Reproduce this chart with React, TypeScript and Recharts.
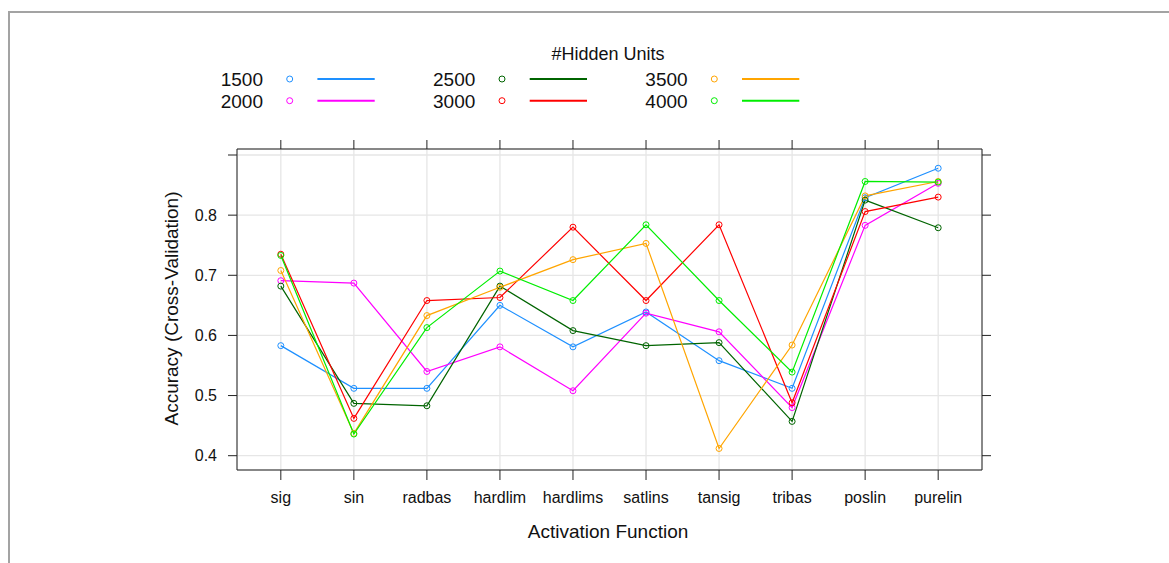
import React from 'react';
import { LineChart, Line, XAxis, YAxis, CartesianGrid } from 'recharts';

const categories: string[] = ['sig', 'sin', 'radbas', 'hardlim', 'hardlims', 'satlins', 'tansig', 'tribas', 'poslin', 'purelin'];

const units1500: number[] = [0.583, 0.512, 0.512, 0.650, 0.581, 0.639, 0.558, 0.512, 0.829, 0.878];
const units2000: number[] = [0.691, 0.687, 0.540, 0.581, 0.508, 0.637, 0.606, 0.480, 0.783, 0.853];
const units2500: number[] = [0.682, 0.487, 0.483, 0.682, 0.608, 0.583, 0.588, 0.457, 0.825, 0.779];
const units3000: number[] = [0.735, 0.462, 0.658, 0.663, 0.780, 0.658, 0.784, 0.488, 0.806, 0.830];
const units3500: number[] = [0.708, 0.437, 0.633, 0.680, 0.726, 0.753, 0.412, 0.584, 0.832, 0.856];
const units4000: number[] = [0.733, 0.436, 0.613, 0.707, 0.658, 0.784, 0.658, 0.539, 0.856, 0.855];

const yTicks: number[] = [0.4, 0.5, 0.6, 0.7, 0.8, 0.9];
const yLabelled: number[] = [0.4, 0.5, 0.6, 0.7, 0.8];

const legendTitle = '#Hidden Units';
const xTitle = 'Activation Function';
const yTitle = 'Accuracy (Cross-Validation)';

const series = [
  { name: '1500', values: units1500, color: '#1e90ff' },
  { name: '2000', values: units2000, color: '#ff00ff' },
  { name: '2500', values: units2500, color: '#006400' },
  { name: '3000', values: units3000, color: '#ff0000' },
  { name: '3500', values: units3500, color: '#ffa500' },
  { name: '4000', values: units4000, color: '#00ee00' },
];

const data = categories.map((c, i) => {
  const row: Record<string, number | string> = { idx: i, cat: c };
  series.forEach((s) => {
    row['u' + s.name] = s.values[i];
  });
  return row;
});

const xTicks = categories.map((_, i) => i);
const FONT = '"Liberation Sans", Arial, sans-serif';

export default function App() {
  const legendCols = [0, 1, 2];
  return (
    <div style={{ position: 'relative', width: 1169, height: 563, overflow: 'hidden', background: '#fff' }}>
      <style>{'html,body{margin:0;padding:0;overflow:hidden;background:#fff}'}</style>
      <div
        style={{
          position: 'absolute',
          left: 8,
          top: 11,
          width: 1161,
          height: 552,
          borderTop: '2px solid #a3a3a3',
          borderLeft: '2px solid #a3a3a3',
          boxSizing: 'border-box',
        }}
      />
      <div style={{ position: 'absolute', left: 0, top: 0 }}>
        <LineChart
          width={1169}
          height={563}
          data={data}
          margin={{ left: 177, right: 167, top: 129, bottom: 53 }}
          style={{ fontFamily: FONT }}
        >
          <CartesianGrid stroke="#e6e6e6" strokeWidth={1.3} />
          <XAxis
            dataKey="idx"
            type="number"
            domain={[-0.6, 9.6]}
            ticks={xTicks}
            interval={0}
            height={40}
            allowDataOverflow
            stroke="#222"
            tickSize={10}
            tickMargin={12}
            tickFormatter={(v: number) => categories[v]}
            tick={{ fill: '#111', fontSize: 16, fontFamily: FONT }}
          />
          <XAxis
            xAxisId="top"
            dataKey="idx"
            orientation="top"
            type="number"
            domain={[-0.6, 9.6]}
            ticks={xTicks}
            interval={0}
            height={20}
            allowDataOverflow
            stroke="#222"
            tickSize={9}
            tickFormatter={() => ''}
          />
          <YAxis
            type="number"
            domain={[0.3762, 0.91]}
            ticks={yTicks}
            interval={0}
            width={60}
            allowDataOverflow
            stroke="#222"
            tickSize={9}
            tickMargin={11}
            tickFormatter={(v: number) => (yLabelled.includes(v) ? v.toFixed(1) : '')}
            tick={{ fill: '#111', fontSize: 16, fontFamily: FONT }}
          />
          <YAxis
            yAxisId="right"
            orientation="right"
            type="number"
            domain={[0.3762, 0.91]}
            ticks={yTicks}
            interval={0}
            width={20}
            allowDataOverflow
            stroke="#222"
            tickSize={9}
            tickFormatter={() => ''}
          />
          {series.map((s) => (
            <Line
              key={s.name}
              dataKey={'u' + s.name}
              type="linear"
              stroke={s.color}
              strokeWidth={1.2}
              dot={{ r: 3, stroke: s.color, strokeWidth: 1, fill: 'none' }}
              activeDot={false}
              isAnimationActive={false}
            />
          ))}
        </LineChart>
      </div>
      <svg
        width={1169}
        height={563}
        style={{ position: 'absolute', left: 0, top: 0, pointerEvents: 'none', fontFamily: FONT }}
      >
        <text x={608} y={59.5} textAnchor="middle" fontSize={18} fill="#111">
          {legendTitle}
        </text>
        {legendCols.map((c) =>
          [0, 1].map((r) => {
            const s = series[c * 2 + r];
            const dx = c * 212.3;
            const cy = 79 + r * 21.7;
            return (
              <g key={s.name}>
                <text x={263 + dx} y={cy + 6.8} textAnchor="end" fontSize={19} fill="#111">
                  {s.name}
                </text>
                <circle cx={289.7 + dx} cy={cy} r={3} fill="none" stroke={s.color} strokeWidth={1} />
                <line x1={317.4 + dx} x2={374.7 + dx} y1={cy} y2={cy} stroke={s.color} strokeWidth={2} />
              </g>
            );
          })
        )}
        <text x={608} y={538} textAnchor="middle" fontSize={19} fill="#111">
          {xTitle}
        </text>
        <text transform="translate(178,308.5) rotate(-90)" textAnchor="middle" fontSize={19} fill="#111">
          {yTitle}
        </text>
      </svg>
    </div>
  );
}
